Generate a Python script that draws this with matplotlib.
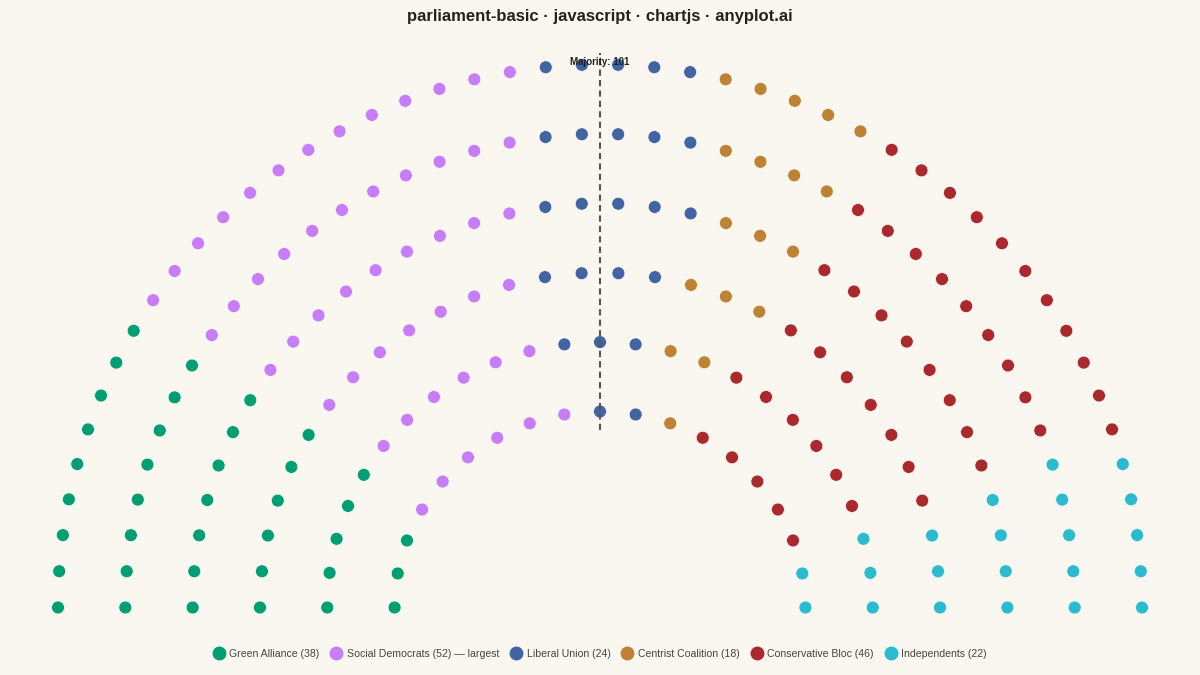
import numpy as np
import matplotlib
matplotlib.use("Agg")
import matplotlib.pyplot as plt
from matplotlib.lines import Line2D

plt.rcParams['font.family'] = ['Liberation Sans', 'DejaVu Sans']

# ---- data ----
parties = ["Green Alliance", "Social Democrats", "Liberal Union",
           "Centrist Coalition", "Conservative Bloc", "Independents"]
seats = [38, 52, 24, 18, 46, 22]
colors = ["#009E73", "#C77CF8", "#4264A2", "#BE8234", "#A9292E", "#2ABBCE"]
title = "parliament-basic · javascript · chartjs · anyplot.ai"

total = sum(seats)
majority = total // 2 + 1

# ---- layout (inner -> outer rows) ----
seats_per_row = [19, 25, 30, 36, 42, 48]
row_rx = np.linspace(0.379, 1.0, len(seats_per_row))
row_ry = np.linspace(0.3616, 1.0018, len(seats_per_row))

xs, ys, keys = [], [], []
for n, rx, ry in zip(seats_per_row, row_rx, row_ry):
    j = np.arange(n)
    theta = np.pi * (1 - j / (n - 1))
    xs.append(rx * np.cos(theta))
    ys.append(ry * np.sin(theta))
    keys.append((j + 0.5) / n)
xs = np.concatenate(xs)
ys = np.concatenate(ys)
keys = np.concatenate(keys)
order = np.argsort(keys, kind="stable")

seat_party = np.repeat(np.arange(len(parties)), seats)
seat_colors = np.empty(total, dtype=object)
seat_colors[order] = [colors[p] for p in seat_party]

bg = "#FAF7F0"
fig = plt.figure(figsize=(12, 6.75), dpi=100, facecolor=bg)
ax = fig.add_axes([0, 0, 1, 1])
ax.set_facecolor(bg)
U = 542.0
ax.set_xlim(-600 / U, 600 / U)
ax.set_ylim(-(675 - 607.5) / U, 607.5 / U)
ax.axis("off")

ax.scatter(xs, ys, s=86, c=list(seat_colors), edgecolors=bg, linewidths=0.5, zorder=2)

# majority line
ax.plot([0, 0], [row_ry[0] - 0.034, row_ry[-1] + 0.021], color="#555555",
        lw=1.5, dashes=(3, 2), zorder=3)
ax.text(0, 1.0065, f"Majority: {majority}", ha="center", va="center",
        fontsize=7, fontweight="bold", color="#222222", zorder=4)

fig.text(0.5, 1 - 17 / 675, title, ha="center", va="center",
         fontsize=12, fontweight="bold", color="#222222")

largest = int(np.argmax(seats))
labels = [f"{p} ({s})" + (" — largest" if i == largest else "")
          for i, (p, s) in enumerate(zip(parties, seats))]
handles = [Line2D([], [], marker="o", linestyle="none", markersize=9,
                  markerfacecolor=c, markeredgecolor=c) for c in colors]
fig.legend(handles, labels, loc="center", bbox_to_anchor=(0.5, 1 - 654 / 675),
           ncol=len(parties), frameon=False, fontsize=7.6, labelcolor="#444444",
           handlelength=1.0, handletextpad=0.5, columnspacing=1.1)

fig.savefig("out.png", dpi=100, facecolor=bg)
